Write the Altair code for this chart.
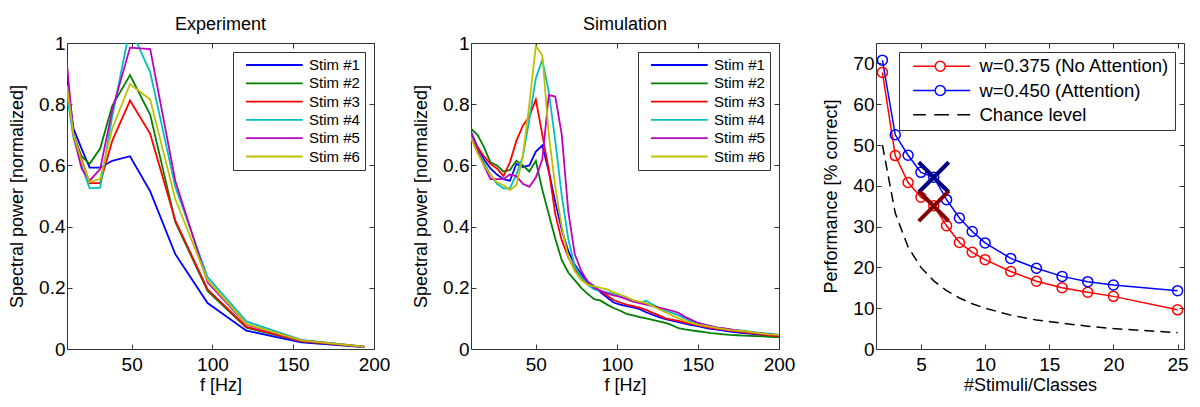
import altair as alt
import pandas as pd

FONT = "Liberation Sans"
BOX = "#333333"

STIM_NAMES = ["Stim #1", "Stim #2", "Stim #3", "Stim #4", "Stim #5", "Stim #6"]
STIM_COLORS = ["#0000FF", "#008000", "#FF0000", "#00BFBF", "#BF00BF", "#BFBF00"]

# ---------------- Experiment ----------------
exp_freq = [10, 14, 19, 24, 30.5, 38, 49, 61.5, 77, 97, 121, 155, 194]
exp_s1 = [0.88, 0.72, 0.655, 0.593, 0.593, 0.615, 0.63, 0.515, 0.31, 0.15, 0.06, 0.022, 0.006]
exp_s2 = [0.86, 0.70, 0.63, 0.605, 0.655, 0.795, 0.895, 0.765, 0.415, 0.19, 0.07, 0.025, 0.007]
exp_s3 = [0.85, 0.70, 0.62, 0.542, 0.542, 0.68, 0.812, 0.703, 0.42, 0.195, 0.072, 0.026, 0.007]
exp_s4 = [0.83, 0.69, 0.60, 0.525, 0.527, 0.76, 1.05, 0.904, 0.53, 0.235, 0.09, 0.03, 0.008]
exp_s5 = [0.93, 0.70, 0.59, 0.55, 0.588, 0.78, 0.985, 0.98, 0.55, 0.218, 0.08, 0.028, 0.008]
exp_s6 = [0.86, 0.70, 0.615, 0.545, 0.556, 0.72, 0.866, 0.815, 0.49, 0.225, 0.082, 0.028, 0.008]

# ---------------- Simulation ----------------
sim_freq = [10, 14, 18, 22, 26, 30, 34, 38,
            42, 46, 50, 54, 58, 62, 66, 70,
            74, 78, 82, 86, 90, 94, 98, 102,
            106, 110, 114, 118, 122, 126, 130, 134,
            138, 142, 146, 150, 154, 158, 162, 166,
            170, 174, 178, 182, 186, 190, 194, 198,
            202]
sim_s1 = [0.71, 0.66, 0.62, 0.59, 0.57, 0.555, 0.55, 0.605,
          0.595, 0.60, 0.645, 0.665, 0.58, 0.48, 0.39, 0.32,
          0.275, 0.245, 0.22, 0.205, 0.185, 0.168, 0.152, 0.145,
          0.14, 0.136, 0.13, 0.12, 0.112, 0.104, 0.098, 0.093,
          0.088, 0.083, 0.078, 0.075, 0.07, 0.066, 0.063, 0.06,
          0.057, 0.054, 0.052, 0.05, 0.048, 0.045, 0.043, 0.042,
          0.04]
sim_s2 = [0.72, 0.70, 0.66, 0.61, 0.60, 0.58, 0.585, 0.615,
          0.60, 0.58, 0.615, 0.52, 0.44, 0.36, 0.29, 0.25,
          0.225, 0.20, 0.18, 0.163, 0.158, 0.145, 0.134, 0.125,
          0.115, 0.11, 0.104, 0.10, 0.095, 0.09, 0.085, 0.078,
          0.068, 0.064, 0.061, 0.058, 0.055, 0.052, 0.05, 0.048,
          0.046, 0.045, 0.044, 0.043, 0.042, 0.041, 0.04, 0.039,
          0.038]
sim_s3 = [0.70, 0.66, 0.63, 0.605, 0.59, 0.565, 0.61, 0.68,
          0.73, 0.76, 0.815, 0.70, 0.585, 0.44, 0.355, 0.30,
          0.26, 0.235, 0.215, 0.2, 0.19, 0.175, 0.16, 0.152,
          0.145, 0.14, 0.135, 0.128, 0.118, 0.11, 0.10, 0.096,
          0.092, 0.086, 0.082, 0.078, 0.073, 0.069, 0.066, 0.063,
          0.06, 0.058, 0.055, 0.052, 0.05, 0.047, 0.045, 0.043,
          0.042]
sim_s4 = [0.70, 0.65, 0.61, 0.57, 0.54, 0.525, 0.525, 0.57,
          0.63, 0.75, 0.885, 0.945, 0.84, 0.68, 0.50, 0.36,
          0.27, 0.235, 0.21, 0.195, 0.19, 0.185, 0.18, 0.172,
          0.165, 0.158, 0.15, 0.158, 0.145, 0.135, 0.125, 0.118,
          0.11, 0.10, 0.09, 0.085, 0.08, 0.075, 0.07, 0.067,
          0.064, 0.062, 0.06, 0.057, 0.054, 0.052, 0.05, 0.048,
          0.045]
sim_s5 = [0.71, 0.65, 0.60, 0.555, 0.555, 0.555, 0.57, 0.565,
          0.54, 0.53, 0.56, 0.62, 0.83, 0.825, 0.70, 0.45,
          0.31, 0.255, 0.22, 0.2, 0.19, 0.182, 0.175, 0.17,
          0.163, 0.155, 0.15, 0.145, 0.14, 0.135, 0.13, 0.125,
          0.118, 0.105, 0.095, 0.085, 0.08, 0.075, 0.07, 0.067,
          0.064, 0.061, 0.058, 0.055, 0.052, 0.05, 0.048, 0.046,
          0.044]
sim_s6 = [0.69, 0.64, 0.60, 0.57, 0.545, 0.535, 0.52, 0.535,
          0.63, 0.80, 0.99, 0.96, 0.70, 0.53, 0.40, 0.30,
          0.255, 0.225, 0.21, 0.205, 0.2, 0.195, 0.185, 0.178,
          0.17, 0.16, 0.155, 0.15, 0.14, 0.13, 0.12, 0.11,
          0.10, 0.092, 0.085, 0.08, 0.076, 0.072, 0.068, 0.065,
          0.062, 0.06, 0.058, 0.056, 0.053, 0.05, 0.048, 0.047,
          0.045]

# ---------------- Performance ----------------
n_classes = [2, 3, 4, 5, 6, 7, 8, 9, 10, 12, 14, 16, 18, 20, 25]
perf_no_att = [67.8, 47.4, 40.8, 37.2, 35.1, 30.2, 26.1, 23.7, 21.9, 19.0, 16.6, 15.0, 13.9, 12.9, 9.6]
perf_att = [70.8, 52.5, 47.5, 43.3, 42.1, 36.6, 32.1, 28.8, 26.0, 22.2, 19.8, 17.8, 16.5, 15.7, 14.3]
chance_level = [50.0, 33.3, 25.0, 20.0, 16.7, 14.3, 12.5, 11.1, 10.0, 8.3, 7.1, 6.3, 5.6, 5.0, 4.0]
marker_n = [6, 6]
marker_p = [42.1, 35.0]
marker_colors = ["#000080", "#800000"]

SERIES_LABELS = ["w=0.375 (No Attention)", "w=0.450 (Attention)", "Chance level"]
SERIES_COLORS = ["#FF0000", "#0000FF", "#000000"]

# legend symbol paths (line with circle, dashed line)
SYM_CIRCLE = "M0,0H3.14M4.57,0H8.14M4.57,0A0.714,0.714 0 1 1 3.14,0A0.714,0.714 0 1 1 4.57,0"
SYM_DASH = "M0,0H1.8M3.0,0H5.1M6.3,0H8.14"
X_PATH = "M-1,-1L1,1M1,-1L-1,1"


def main_axis(orient, values, title, fmt=None):
    kw = dict(orient=orient, values=values, title=title, domain=False, grid=False,
              ticks=True, tickSize=5, offset=-5, tickColor=BOX, tickWidth=1,
              labelFontSize=19, titleFontSize=18, labelFont=FONT, titleFont=FONT,
              labelColor="black", titleColor="black", titleFontWeight="normal",
              labelFlush=False, labelOverlap=False, titleLimit=1000, labelLimit=1000)
    if orient == "left":
        kw.update(labelPadding=2, titlePadding=12)
    else:
        kw.update(labelPadding=6.5, titlePadding=2)
    if fmt:
        kw["format"] = fmt
    return alt.Axis(**kw)


def tick_axis(orient, values):
    return alt.Axis(orient=orient, values=values, labels=False, title=None, domain=False,
                    grid=False, ticks=True, tickSize=5, offset=-5, tickColor=BOX, tickWidth=1)


def spectral_panel(title, freqs, series, width):
    rows = []
    for name, vals in zip(STIM_NAMES, series):
        for f, v in zip(freqs, vals):
            rows.append({"f": f, "v": v, "stim": name})
    df = pd.DataFrame(rows)
    xs = alt.Scale(domain=[10, 200], nice=False, zero=False)
    ys = alt.Scale(domain=[0, 1], nice=False, zero=False)
    xvals = [50, 100, 150, 200]
    yvals = [0, 0.2, 0.4, 0.6, 0.8, 1]
    lines = alt.Chart(df).mark_line(strokeWidth=1.8, clip=True).encode(
        x=alt.X("f:Q", scale=xs, axis=main_axis("bottom", xvals, "f [Hz]")),
        y=alt.Y("v:Q", scale=ys, axis=main_axis("left", yvals, "Spectral power [normalized]", "~g")),
        color=alt.Color("stim:N", scale=alt.Scale(domain=STIM_NAMES, range=STIM_COLORS),
                        legend=alt.Legend(title=None, orient="top-right", offset=9,
                                          fillColor="white", strokeColor=BOX, padding=5,
                                          symbolType="M0,0H8.1", symbolSize=196,
                                          symbolStrokeWidth=1.8, labelFontSize=15,
                                          labelFont=FONT, labelColor="black", labelLimit=400,
                                          labelOffset=55, rowPadding=2.3)),
    )
    ticks = alt.Chart(df.head(1)).mark_point(opacity=0).encode(
        x=alt.X("f:Q", scale=xs, axis=tick_axis("top", xvals)),
        y=alt.Y("v:Q", scale=ys, axis=tick_axis("right", yvals)),
    )
    return alt.layer(lines, ticks).resolve_axis(x="independent", y="independent").properties(
        width=width, height=306,
        title=alt.TitleParams(title, fontSize=18, font=FONT, fontWeight="normal", color="black", offset=0),
    )


left = spectral_panel("Experiment", exp_freq, [exp_s1, exp_s2, exp_s3, exp_s4, exp_s5, exp_s6], 307)
mid = spectral_panel("Simulation", sim_freq, [sim_s1, sim_s2, sim_s3, sim_s4, sim_s5, sim_s6], 308)

# ---------------- right panel ----------------
df_no = pd.DataFrame({"n": n_classes, "p": perf_no_att})
df_at = pd.DataFrame({"n": n_classes, "p": perf_att})
df_ch = pd.DataFrame({"n": n_classes, "p": chance_level})
df_mk = pd.DataFrame({"n": marker_n, "p": marker_p, "c": marker_colors})
df_leg = pd.DataFrame({"n": [2, 2, 2], "p": [50, 50, 50], "series": SERIES_LABELS})

rxs = alt.Scale(domain=[1.5, 25.5], nice=False, zero=False)
rys = alt.Scale(domain=[0, 75], nice=False, zero=False)
rxv = [5, 10, 15, 20, 25]
ryv = [0, 10, 20, 30, 40, 50, 60, 70]
X = alt.X("n:Q", scale=rxs, axis=main_axis("bottom", rxv, "#Stimuli/Classes"))
Y = alt.Y("p:Q", scale=rys, axis=main_axis("left", ryv, "Performance [% correct]"))

chance = alt.Chart(df_ch).mark_line(color="black", strokeDash=[10, 6], strokeWidth=1.5, clip=True).encode(x=X, y=Y)
line_no = alt.Chart(df_no).mark_line(color="#FF0000", strokeWidth=1.5, clip=True).encode(x=X, y=Y)
line_at = alt.Chart(df_at).mark_line(color="#0000FF", strokeWidth=1.5, clip=True).encode(x=X, y=Y)
pts_no = alt.Chart(df_no).mark_point(shape="circle", filled=False, size=100, strokeWidth=1.5,
                                     color="#FF0000", opacity=1, clip=True).encode(x=X, y=Y)
pts_at = alt.Chart(df_at).mark_point(shape="circle", filled=False, size=100, strokeWidth=1.5,
                                     color="#0000FF", opacity=1, clip=True).encode(x=X, y=Y)
marks_x = alt.Chart(df_mk).mark_point(shape=X_PATH, filled=False, size=900, strokeWidth=4,
                                      opacity=1).encode(
    x=X, y=Y, color=alt.Color("c:N", scale=None))

leg_cfg = dict(title=None, orient="top-right", offset=9, fillColor="white", strokeColor=BOX,
               padding=5, symbolSize=196, symbolStrokeWidth=1.5, labelFontSize=18.5,
               labelFont=FONT, labelColor="black", labelOffset=57, rowPadding=5.3, labelLimit=400)
legend_layer = alt.Chart(df_leg).mark_point(filled=False, opacity=1).encode(
    x=X, y=Y,
    color=alt.Color("series:N", scale=alt.Scale(domain=SERIES_LABELS, range=SERIES_COLORS),
                    legend=alt.Legend(**leg_cfg)),
    shape=alt.Shape("series:N", scale=alt.Scale(domain=SERIES_LABELS, range=[SYM_CIRCLE, SYM_CIRCLE, SYM_DASH]),
                    legend=alt.Legend(**leg_cfg)),
).transform_filter("datum.p > 1000")

main_r = alt.layer(chance, line_no, line_at, pts_no, pts_at, marks_x, legend_layer)
ticks_r = alt.Chart(df_ch.head(1)).mark_point(opacity=0).encode(
    x=alt.X("n:Q", scale=rxs, axis=tick_axis("top", rxv)),
    y=alt.Y("p:Q", scale=rys, axis=tick_axis("right", ryv)),
)
right = alt.layer(main_r, ticks_r).resolve_axis(x="independent", y="independent").properties(width=308, height=306)

chart = alt.hconcat(left, mid, right, spacing=97, bounds="flush").resolve_scale(
    color="independent", shape="independent"
).properties(
    padding={"left": 0, "right": 0, "top": 7, "bottom": 0}
).configure_view(stroke=BOX, strokeWidth=1)

chart.save("out.html", embed_options={"renderer": "svg", "actions": False})
